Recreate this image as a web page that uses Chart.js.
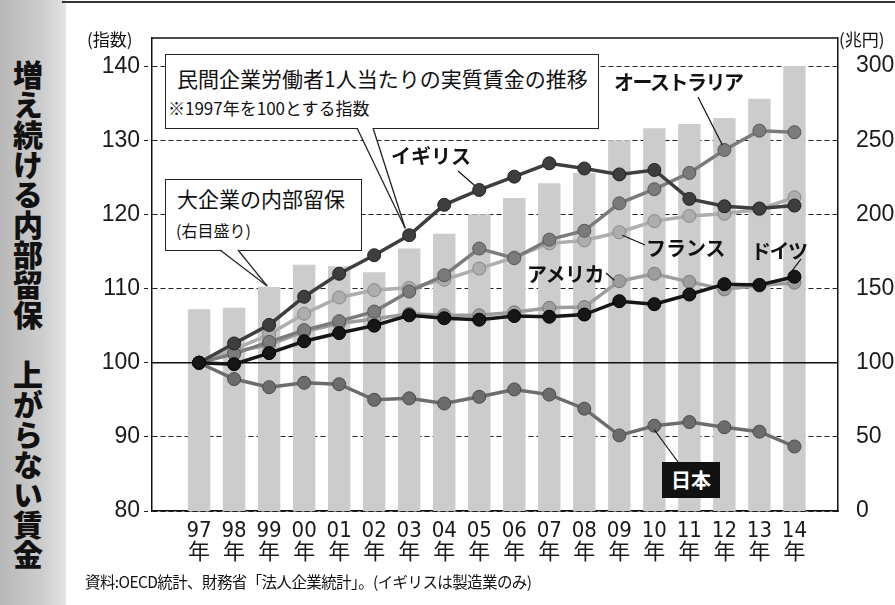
<!DOCTYPE html>
<html>
<head>
<meta charset="utf-8">
<script src="https://cdn.jsdelivr.net/npm/chart.js@4.4.1/dist/chart.umd.min.js"></script>
<style>
  body { margin: 0; background: #fff; }
  #wrap { position: relative; width: 895px; height: 605px; overflow: hidden; background: #fff;
          font-family: "Noto Sans CJK JP", sans-serif; color: #111; }
  #strip { position: absolute; left: 0; top: 0; width: 66px; height: 605px;
           background: linear-gradient(to right, #b8b8b8, #cdcdcd 65%, #e4e4e4); }
  #title { position: absolute; left: 13px; top: 60px; writing-mode: vertical-rl;
           font-size: 30px; font-weight: 900; line-height: 1; }
  #topline { position: absolute; left: 62px; right: 0; top: 1px; height: 2px; background: #333; }
  canvas { position: absolute; left: 0; top: 0; }
  .t { position: absolute; white-space: nowrap; line-height: 1; }
  .box { position: absolute; background: #fff; border: 1.5px solid #222; box-sizing: border-box; }
  .tag { position: absolute; white-space: nowrap; line-height: 1; font-weight: 700; font-size: 20px; }
  #ov { position: absolute; left: 0; top: 0; }
</style>
</head>
<body>
<div id="wrap">
  <div id="strip"></div>
  <div id="title">増え続ける内部留保　上がらない賃金</div>
  <div id="topline"></div>
  <canvas id="c" width="895" height="605"></canvas>

  <div class="t" style="left:87px;top:30px;font-size:17px;">(指数)</div>
  <div class="t" style="left:839px;top:30px;font-size:17px;">(兆円)</div>

  <div class="box" style="left:165px;top:54px;width:434px;height:75px;"></div>
  <div class="t" style="left:177px;top:68px;font-size:21px;">民間企業労働者1人当たりの実質賃金の推移</div>
  <div class="t" style="left:168px;top:99px;font-size:17px;">※1997年を100とする指数</div>

  <div class="box" style="left:165px;top:179px;width:197px;height:72px;"></div>
  <div class="t" style="left:177px;top:188px;font-size:21px;">大企業の内部留保</div>
  <div class="t" style="left:176px;top:222px;font-size:16px;">(右目盛り)</div>

  <div class="tag" style="left:391px;top:146px;">イギリス</div>
  <div class="tag" style="left:614px;top:72px;letter-spacing:-1.5px;">オーストラリア</div>
  <div class="tag" style="left:646px;top:238px;">フランス</div>
  <div class="tag" style="left:751px;top:241px;letter-spacing:-1.5px;">ドイツ</div>
  <div class="tag" style="left:527px;top:264px;letter-spacing:-0.5px;">アメリカ</div>
  <div class="tag" style="left:662px;top:462px;width:58px;height:36px;background:#111;color:#fff;text-align:center;line-height:36px;">日本</div>

  <svg id="ov" width="895" height="605"></svg>

  <div class="t" style="left:85px;top:574px;font-size:15.5px;letter-spacing:-0.6px;">資料:OECD統計、財務省「法人企業統計」。(イギリスは製造業のみ)</div>
</div>

<script>
const years = ['97', '98', '99', '00', '01', '02', '03', '04', '05', '06', '07', '08', '09', '10', '11', '12', '13', '14'];
const leftTicks = [80, 90, 100, 110, 120, 130, 140];
const rightTicks = [0, 50, 100, 150, 200, 250, 300];

// 大企業の内部留保 (兆円, right axis)
const reserves = [136, 137, 151, 166, 165, 161, 177, 187, 200, 211, 221, 228, 250, 258, 261, 265, 278, 300];

// 実質賃金指数 (1997 = 100)
const uk        = [100, 102.6, 105.1, 108.9, 112.0, 114.5, 117.2, 121.3, 123.3, 125.1, 126.9, 126.2, 125.4, 126.0, 122.1, 121.1, 120.8, 121.2];
const australia = [100, 101.2, 102.8, 104.4, 105.6, 106.9, 109.6, 111.8, 115.4, 114.1, 116.6, 117.8, 121.5, 123.4, 125.6, 128.7, 131.3, 131.1];
const france    = [100, 101.8, 103.8, 106.6, 108.8, 109.8, 110.1, 111.2, 112.7, 114.2, 116.1, 116.5, 117.6, 119.1, 119.8, 120.1, 120.7, 122.3];
const usa       = [100, 101.5, 102.4, 104.2, 105.3, 105.9, 106.6, 106.4, 106.4, 106.8, 107.4, 107.5, 111.0, 112.0, 110.9, 109.9, 110.4, 110.8];
const germany   = [100, 99.8, 101.3, 102.9, 104.0, 105.0, 106.4, 106.0, 105.8, 106.3, 106.2, 106.5, 108.3, 107.9, 109.2, 110.6, 110.5, 111.6];
const japan     = [100, 97.8, 96.7, 97.3, 97.1, 95.0, 95.2, 94.5, 95.4, 96.4, 95.7, 93.8, 90.2, 91.5, 92.0, 91.3, 90.7, 88.7];

const toXY = arr => arr.map((v, i) => ({ x: i, y: v }));

const lineSet = (label, arr, color, edge, order) => ({
    type: 'line',
    label: label,
    data: toXY(arr),
    yAxisID: 'y',
    borderColor: color,
    borderWidth: 3.5,
    pointRadius: 6.5,
    pointBackgroundColor: color,
    pointBorderColor: edge,
    pointBorderWidth: 1,
    tension: 0,
    order: order
});

// solid 100 line drawn over the bars but under the wage lines
const baseLine = {
    id: 'baseLine',
    afterDatasetDraw(chart, args) {
        if (args.index !== 0) return;
        const ctx = chart.ctx;
        const y = chart.scales.y.getPixelForValue(100);
        ctx.save();
        ctx.strokeStyle = '#111';
        ctx.lineWidth = 1.5;
        ctx.beginPath();
        ctx.moveTo(chart.chartArea.left, y);
        ctx.lineTo(chart.chartArea.right, y);
        ctx.stroke();
        ctx.restore();
    },
    afterDraw(chart) {
        const ctx = chart.ctx;
        const a = chart.chartArea;
        ctx.save();
        ctx.strokeStyle = '#111';
        ctx.lineWidth = 1.5;
        ctx.beginPath();
        ctx.moveTo(a.left, a.top);
        ctx.lineTo(a.right, a.top);
        ctx.stroke();
        ctx.restore();
    }
};

const chart = new Chart(document.getElementById('c'), {
    type: 'bar',
    data: {
        datasets: [
            {
                label: '大企業の内部留保',
                data: toXY(reserves),
                yAxisID: 'y1',
                backgroundColor: '#cccccc',
                barPercentage: 0.8,
                categoryPercentage: 0.8,
                order: 10
            },
            lineSet('ドイツ', germany, '#161616', '#000', 1),
            lineSet('イギリス', uk, '#3e3e3e', '#222', 2),
            lineSet('オーストラリア', australia, '#7b7b7b', '#555', 3),
            lineSet('フランス', france, '#adadad', '#888', 4),
            lineSet('アメリカ', usa, '#9d9d9d', '#777', 5),
            lineSet('日本', japan, '#6c6c6c', '#4a4a4a', 6)
        ]
    },
    options: {
        responsive: false,
        animation: false,
        events: [],
        layout: { padding: { top: 38, left: 0, right: 0, bottom: 0 } },
        plugins: {
            legend: { display: false },
            tooltip: { enabled: false }
        },
        scales: {
            x: {
                type: 'linear',
                min: -0.8,
                max: 17.7,
                afterBuildTicks: s => { s.ticks = years.map((_, i) => ({ value: i })); },
                afterFit: s => { s.height = 94; },
                grid: { display: false },
                border: { color: '#111', width: 1.5 },
                ticks: {
                    autoSkip: false,
                    maxRotation: 0,
                    padding: 1,
                    color: '#1a1a1a',
                    font: { family: "'Liberation Sans Narrow', 'DejaVu Sans Condensed', 'Noto Sans CJK JP'", size: 22, lineHeight: 1.02 },
                    callback: v => [years[v], '年']
                }
            },
            y: {
                position: 'left',
                min: 80,
                max: 143.8,
                afterBuildTicks: s => { s.ticks = leftTicks.map(v => ({ value: v })); },
                afterFit: s => { s.width = 152; },
                grid: {
                    color: ctx => ctx.tick && ctx.tick.value === 100 ? 'rgba(0,0,0,0)' : '#222',
                    lineWidth: 1,
                    tickLength: 8,
                    tickColor: '#222',
                    tickBorderDash: [4, 3]
                },
                border: { color: '#111', width: 1.5, dash: [5, 3] },
                ticks: {
                    padding: 4,
                    color: '#1a1a1a',
                    font: { family: "'Liberation Sans', Arial", size: 23 }
                }
            },
            y1: {
                position: 'right',
                min: 0,
                max: 318.9,
                afterBuildTicks: s => { s.ticks = rightTicks.map(v => ({ value: v })); },
                afterFit: s => { s.width = 57; },
                grid: { display: false },
                border: { color: '#111', width: 1.5 },
                ticks: {
                    padding: 10,
                    color: '#1a1a1a',
                    font: { family: "'Liberation Sans', Arial", size: 23 }
                }
            }
        }
    },
    plugins: [baseLine]
});

// callout pointers and leader lines, anchored on the data through the scales
const sx = v => chart.scales.x.getPixelForValue(v);
const sy = v => chart.scales.y.getPixelForValue(v);
const sr = v => chart.scales.y1.getPixelForValue(v);

let svg = '';
const pointer = (bx1, bx2, by, tx, ty) => {
    svg += `<polygon points="${bx1},${by - 2} ${tx},${ty} ${bx2},${by - 2}" fill="#fff"/>`;
    svg += `<line x1="${bx1}" y1="${by - 1}" x2="${tx}" y2="${ty}" stroke="#222" stroke-width="1.3"/>`;
    svg += `<line x1="${bx2}" y1="${by - 1}" x2="${tx}" y2="${ty}" stroke="#222" stroke-width="1.3"/>`;
};
const leader = (x1, y1, x2, y2) => {
    svg += `<line x1="${x1}" y1="${y1}" x2="${x2}" y2="${y2}" stroke="#111" stroke-width="1.2"/>`;
};

pointer(357, 373, 129, sx(6) - 4, sy(uk[6]) - 7);
pointer(220, 238, 251, sx(2) - 2, sr(reserves[2]) - 1);

leader(458, 171, sx(8) - 4, sy(uk[8]) - 4);
leader(698, 97, sx(15) - 2, sy(australia[15]) - 5);
leader(645, 245, sx(12) + 3, sy(france[12]) + 3);
leader(801, 259, sx(17) - 3, sy(germany[17]) - 5);
leader(606, 273, sx(12) - 5, sy(usa[12]) - 1);
leader(678, 462, sx(13), sy(japan[13]) + 4);

document.getElementById('ov').innerHTML = svg;
</script>
</body>
</html>
